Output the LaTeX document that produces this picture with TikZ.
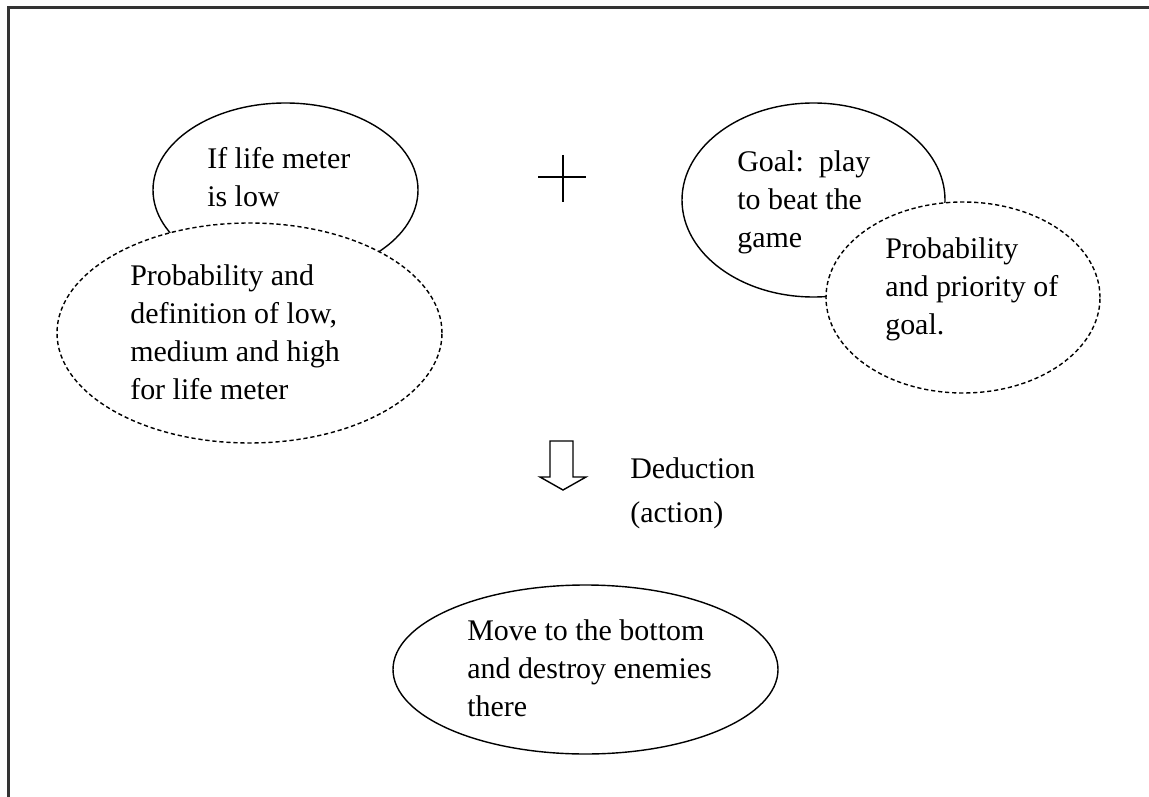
\documentclass[tikz,border=0pt]{standalone}
\usepackage{fontspec}
\setmainfont{Liberation Serif}
\newfontfamily\notefont{Liberation Serif}
\usetikzlibrary{shapes.geometric, positioning, calc}
\tikzset{
  belief/.style = {ellipse, draw, line width=1pt, inner sep=0pt},
  estimate/.style = {belief, fill=white, dash pattern=on 3pt off 2pt},
  note/.style = {align=left, inner sep=0pt, anchor=west},
}

\begin{document}
\begin{tikzpicture}[font=\notefont\fontsize{21.3}{27}\selectfont]

  \useasboundingbox (0,0) rectangle (28.725,-19.925);

  % page frame
  \draw[line width=1.5pt, black!80] (0.2125,-19.925) -- (0.2125,-0.1875) -- (28.725,-0.1875);

  % Condition and its estimate
  \node[belief, minimum width=6.625cm, minimum height=4.35cm] (cond) at (7.1375,-4.75) {};
  \node[estimate, minimum width=9.625cm, minimum height=5.5cm] (condp) at (6.2375,-8.325) {};
  \node[note] (condtxt) at (5.175,-4.4375) {If life meter\\is low};
  \node[note] (condptxt) at (3.25,-8.3125) {Probability and\\definition of low,\\medium and high\\for life meter};

  % Goal and its estimate
  \node[belief, minimum width=6.575cm, minimum height=4.85cm] (goal) at (20.3375,-5.0) {};
  \node[estimate, minimum width=6.85cm, minimum height=4.775cm] (goalp) at (24.075,-7.4375) {};
  \node[note] (goaltxt) at (18.425,-5.05) {Goal:\ \ play\\to beat the\\game};
  \node[note] (goalptxt) at (22.125,-7.2375) {Probability\\and priority of\\goal.};

  % plus sign
  \coordinate (plus) at (14.075,-4.425);
  \draw[line width=1pt] ($(plus)+(-0.625,0)$) -- ++(1.2,0);
  \draw[line width=1pt] ($(plus)+(0,0.55)$) -- ++(0,-1.175);

  % block arrow down
  \coordinate (down) at (13.75,-11.025);
  \draw[line width=1pt] (down) -- ++(0.575,0) -- ++(0,-0.9) -- ++(0.325,0)
    -- ++(-0.575,-0.325) -- ++(-0.575,0.325) -- ++(0.25,0) -- cycle;
  \node[note] (ded) at (15.75,-12.3375) {Deduction\\[4pt](action)};

  % Action
  \node[belief, minimum width=9.625cm, minimum height=4.225cm] (act) at (14.6375,-16.7375) {};
  \node[note] (acttxt) at (11.675,-16.7) {Move to the bottom\\and destroy enemies\\there};

\end{tikzpicture}
\end{document}
